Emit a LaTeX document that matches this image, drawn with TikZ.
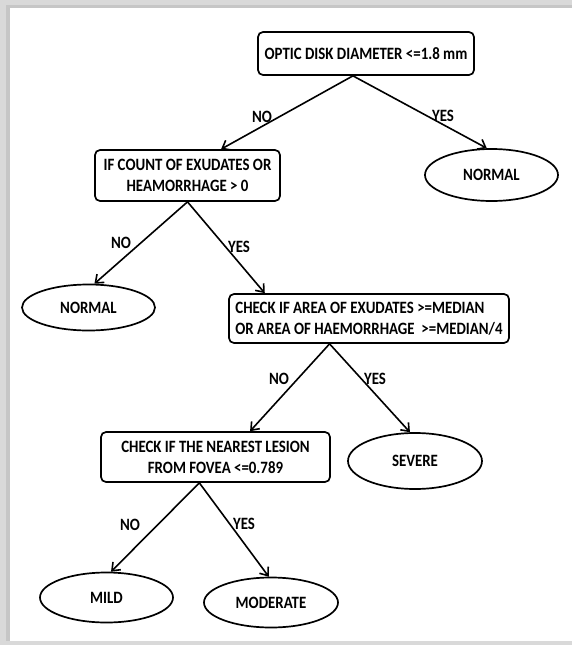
\documentclass[tikz,border=0pt]{standalone}
\usepackage{fontspec}
\setmainfont{Carlito}[FakeStretch=0.86]
\usetikzlibrary{shapes.geometric,arrows.meta,calc}

\tikzset{
	testbox/.style={draw, line width=1.7pt, rounded corners=5pt, inner sep=0pt, font=\bfseries\fontsize{17.3}{21}\selectfont},
	leaf/.style={draw, ellipse, line width=1.7pt, inner sep=0pt, minimum width=133pt, minimum height=50pt, font=\bfseries\fontsize{17.3}{21}\selectfont},
	branch/.style={line width=1.6pt, -{Straight Barb[length=7pt,width=11pt,line width=1.6pt]}},
	answer/.style={inner sep=0pt, font=\bfseries\fontsize{17.3}{18}\selectfont}
}

\begin{document}
\begin{tikzpicture}[x=1pt, y=-1pt]
		% frame with shadow
		\fill [gray!30] (0,0) rectangle (572,645);
		\fill [gray!45] (6,5) rectangle (572,641);
		\fill [white] (10,8) rectangle (572,641);
		\useasboundingbox (0,0) rectangle (572,645);
		
		% tests
		\node [testbox, minimum width=216pt, minimum height=43pt] (diam) at (366,53.5) {OPTIC DISK DIAMETER <=1.8 mm};
		\node [testbox, minimum width=185pt, minimum height=51pt, align=center] (count) at (187.5,175.5) {IF COUNT OF EXUDATES OR\\HEAMORRHAGE > 0};
		\node [testbox, minimum width=280pt, minimum height=49pt, align=left] (area) at (369,318.5) {CHECK IF AREA OF EXUDATES >=MEDIAN\\OR AREA OF HAEMORRHAGE \ >=MEDIAN/4};
		\node [testbox, minimum width=229pt, minimum height=50pt, align=center] (lesion) at (215.5,457) {CHECK IF THE NEAREST LESION\\FROM FOVEA <=0.789};
		
		% outcomes
		\node [leaf, minimum height=52pt] (normR) at (491.5,175) {NORMAL};
		\node [leaf, minimum height=46pt] (normL) at (88.5,307.5) {NORMAL};
		\node [leaf, minimum width=134pt, minimum height=56pt] (severe) at (415,461) {SEVERE};
		\node [leaf] (mild) at (106.5,597.5) {MILD};
		\node [leaf, minimum width=134pt] (moder) at (271,602.5) {MODERATE};
		
		% branches
		\draw [branch] ($(diam.south west)!.44!(diam.south east)$) -- ($(count.north west)!.68!(count.north east)$);
		\draw [branch] ($(diam.south west)!.44!(diam.south east)$) -- (normR.100);
		\draw [branch] (count.south) -- (normL.76);
		\draw [branch] (count.south) -- ($(area.north west)!.13!(area.north east)$);
		\draw [branch] ($(area.south west)!.36!(area.south east)$) -- ($(lesion.north west)!.65!(lesion.north east)$);
		\draw [branch] ($(area.south west)!.36!(area.south east)$) -- (severe.100);
		\draw [branch] ($(lesion.south west)!.43!(lesion.south east)$) -- (mild.80);
		\draw [branch] ($(lesion.south west)!.43!(lesion.south east)$) -- (moder.95);
		
		% answers
		\node [answer] (no1) at (262,117) {NO};
		\node [answer] (yes1) at (443,116) {YES};
		\node [answer] (no2) at (121,243) {NO};
		\node [answer] (yes2) at (239,247) {YES};
		\node [answer] (no3) at (279,379) {NO};
		\node [answer] (yes3) at (375,379) {YES};
		\node [answer] (no4) at (130,525) {NO};
		\node [answer] (yes4) at (244,524) {YES};
		
		\end{tikzpicture}
\end{document}
